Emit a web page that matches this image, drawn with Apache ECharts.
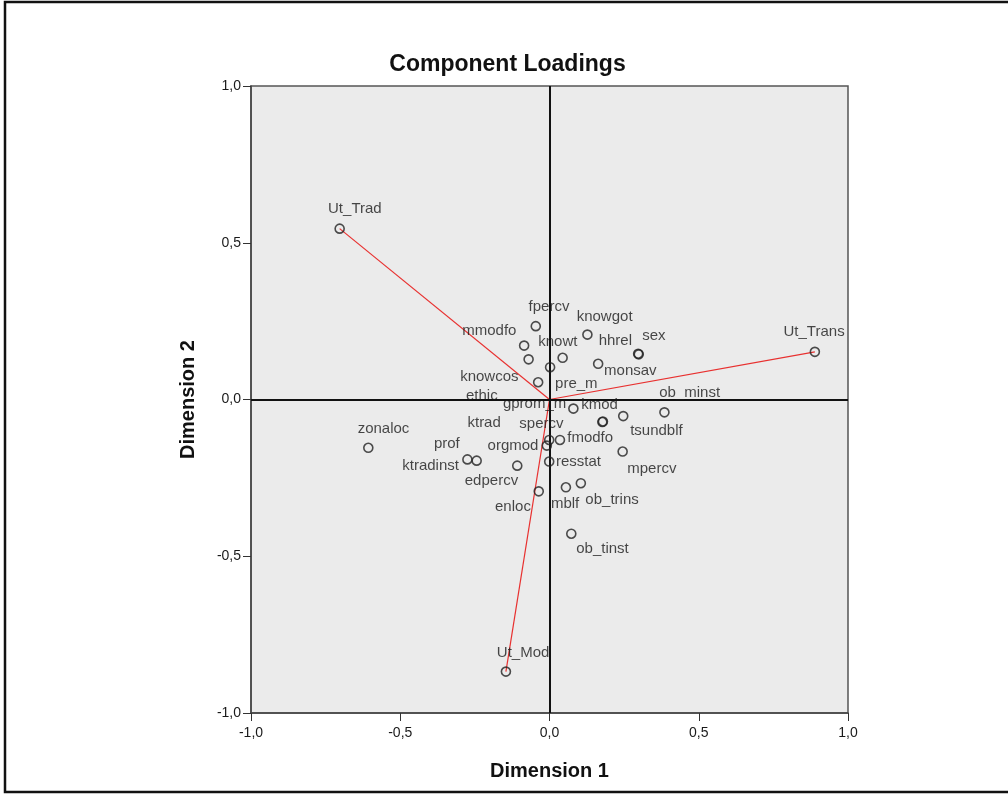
<!DOCTYPE html>
<html>
<head>
<meta charset="utf-8">
<script src="https://cdn.jsdelivr.net/npm/echarts@6/dist/echarts.min.js"></script>
<style>
html,body{margin:0;padding:0;background:#fff;}
#chart{width:1008px;height:794px;}
</style>
</head>
<body>
<div id="chart"></div>
<script>
// ---- data ----
const variableNames = ['Ut_Trad','Ut_Trans','Ut_Mod','fpercv','knowgot','mmodfo','knowt','hhrel','sex','monsav',
  'knowcos','pre_m','ethic','gprom_m','kmod','ktrad','spercv','orgmod','tsundblf','ob_minst',
  'zonaloc','prof','ktradinst','edpercv','fmodfo','resstat','mpercv','enloc','mblf','ob_trins','ob_tinst'];
const dimension1 = [-0.703, 0.889, -0.146, -0.046, 0.127, -0.085, 0.044, 0.297, 0.299, 0.163,
  -0.038, 0.002, -0.070, 0.080, 0.177, 0.179, -0.001, -0.009, 0.247, 0.385,
  -0.607, -0.244, -0.275, -0.108, 0.035, -0.001, 0.245, -0.036, 0.055, 0.105, 0.073];
const dimension2 = [0.545, 0.152, -0.868, 0.234, 0.207, 0.172, 0.133, 0.146, 0.144, 0.114,
  0.055, 0.103, 0.128, -0.029, -0.072, -0.070, -0.129, -0.147, -0.053, -0.041,
  -0.154, -0.195, -0.191, -0.211, -0.129, -0.198, -0.166, -0.293, -0.280, -0.267, -0.428];
const vectorVariables = ['Ut_Trad','Ut_Trans','Ut_Mod'];
const tickValues = [-1, -0.5, 0, 0.5, 1];
const tickLabels = ['-1,0','-0,5','0,0','0,5','1,0'];

// ---- label placement (style, not data): offset of label centre from point, px ----
const labelOffsets = {
  Ut_Trad:[16,-19], Ut_Trans:[0,-19], Ut_Mod:[18,-18], fpercv:[14,-18], knowgot:[18,-17],
  mmodfo:[-34,-14], knowt:[-4,-15], hhrel:[-22,-12], sex:[16,-18], monsav:[33,8],
  knowcos:[-48,-5], pre_m:[27,17], ethic:[-46,37], gprom_m:[-38,-4], kmod:[-2,-16],
  ktrad:[-118,2], spercv:[-7,-15], orgmod:[-33,1], tsundblf:[34,16], ob_minst:[26,-19],
  zonaloc:[16,-18], prof:[-29,-16], ktradinst:[-36,7], edpercv:[-25,16], fmodfo:[31,-1],
  resstat:[30,1], mpercv:[30,18], enloc:[-25,16], mblf:[0,17], ob_trins:[32,17], ob_tinst:[32,16]
};
const SYMBOL_SIZE = 9;

function fmtTick(v){
  const i = tickValues.findIndex(t => Math.abs(t - v) < 1e-9);
  return i >= 0 ? tickLabels[i] : '';
}

const pointData = variableNames.map((n, i) => {
  const off = labelOffsets[n] || [0, -16];
  return {
    name: n,
    value: [dimension1[i], dimension2[i]],
    label: { position: [SYMBOL_SIZE / 2 + off[0], SYMBOL_SIZE / 2 + off[1]] }
  };
});

const vectorSeries = vectorVariables.map(n => {
  const i = variableNames.indexOf(n);
  return {
    type: 'line', silent: true, symbol: 'none', z: 3,
    lineStyle: { color: '#e8302f', width: 1.2 },
    data: [[0, 0], [dimension1[i], dimension2[i]]]
  };
});

const chart = echarts.init(document.getElementById('chart'), null, { renderer: 'canvas' });
const axisFont = { fontFamily: 'Liberation Sans, Arial, sans-serif', fontSize: 14, color: '#1a1a1a' };
chart.setOption({
  animation: false,
  backgroundColor: '#fff',
  grid: { left: 251, top: 86, right: 160, bottom: 81, show: true,
          backgroundColor: '#ebebeb', borderColor: '#555', borderWidth: 1.5 },
  xAxis: {
    type: 'value', min: -1, max: 1, interval: 0.5,
    axisLine: { show: true, onZero: false, lineStyle: { color: '#444', width: 1.5 } },
    axisTick: { show: true, length: 8, lineStyle: { color: '#333' } },
    axisLabel: Object.assign({ margin: 13, formatter: fmtTick }, axisFont),
    splitLine: { show: false },
    name: 'Dimension 1', nameLocation: 'middle', nameGap: 48,
    nameTextStyle: { fontFamily: 'Liberation Sans, Arial, sans-serif', fontSize: 20, fontWeight: 'bold', color: '#111' }
  },
  yAxis: {
    type: 'value', min: -1, max: 1, interval: 0.5,
    axisLine: { show: true, onZero: false, lineStyle: { color: '#444', width: 1.5 } },
    axisTick: { show: true, length: 8, lineStyle: { color: '#333' } },
    axisLabel: Object.assign({ margin: 10, formatter: fmtTick }, axisFont),
    splitLine: { show: false },
    name: 'Dimension 2', nameLocation: 'middle', nameGap: 53,
    nameTextStyle: { fontFamily: 'Liberation Sans, Arial, sans-serif', fontSize: 20, fontWeight: 'bold', color: '#111' }
  },
  graphic: [
    { type: 'rect', silent: true, z: 100,
      shape: { x: 5, y: 2, width: 1010, height: 790 },
      style: { fill: 'none', stroke: '#111', lineWidth: 2.5 } },
    { type: 'text', silent: true, x: 507.5, y: 65,
      style: { text: 'Component Loadings', fill: '#111', textAlign: 'center', textVerticalAlign: 'middle',
               font: 'bold 23px "Liberation Sans", Arial, sans-serif' } }
  ],
  series: [
    { type: 'scatter', data: [], silent: true,
      markLine: { silent: true, symbol: 'none', animation: false, label: { show: false },
        lineStyle: { color: '#111', width: 2, type: 'solid' },
        data: [{ xAxis: 0 }, { yAxis: 0 }] } },
    ...vectorSeries,
    { type: 'scatter', z: 5, symbol: 'circle', symbolSize: SYMBOL_SIZE,
      itemStyle: { color: 'rgba(0,0,0,0)', borderColor: '#222', borderWidth: 1.6 },
      label: { show: true, formatter: p => p.name,
               fontFamily: 'Liberation Sans, Arial, sans-serif', fontSize: 15, color: '#1a1a1a',
               align: 'center', verticalAlign: 'middle' },
      labelLayout: { hideOverlap: false },
      data: pointData }
  ]
});
</script>
</body>
</html>
